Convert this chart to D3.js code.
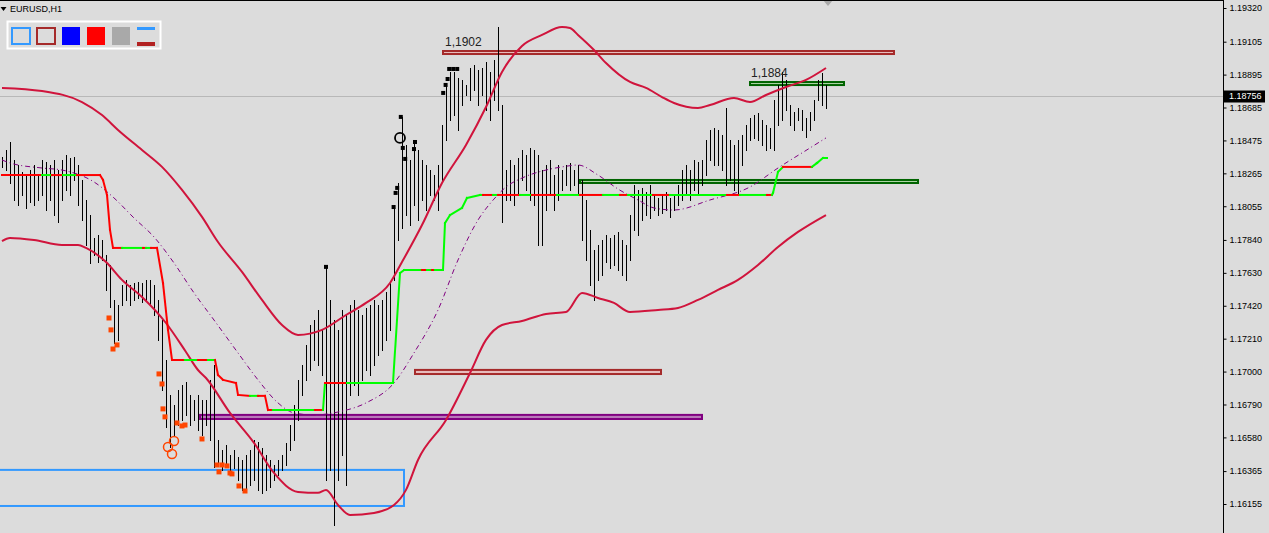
<!DOCTYPE html>
<html><head><meta charset="utf-8">
<script src="https://cdn.jsdelivr.net/npm/d3@7"></script>
<style>html,body{margin:0;padding:0;background:#dcdcdc;overflow:hidden}svg{display:block}</style>
</head><body><svg id="c" width="1269" height="533"></svg>
<script>
const symbolTitle = "EURUSD,H1";
const tickValues = [1.19320,1.19105,1.18895,1.18685,1.18475,1.18265,1.18055,1.17840,1.17630,1.17420,1.17210,1.17000,1.16790,1.16580,1.16365,1.16155];
const currentPrice = 1.18756;

const highs = [
1.18369,1.18414,1.18465,1.18350,1.18318,1.18274,1.18254,1.18286,1.18318,1.18254,
1.18350,1.18337,1.18318,1.18350,1.18286,1.18350,1.18382,1.18363,1.18369,1.18318,
1.18223,1.18095,1.17999,1.17853,1.17872,1.17840,1.17744,1.17680,1.17457,1.17425,
1.17553,1.17585,1.17553,1.17565,1.17572,1.17565,1.17585,1.17585,1.17553,1.17457,
1.17329,1.17074,1.16851,1.16787,1.16883,1.16915,1.16934,1.16851,1.16819,1.16851,
1.16819,1.16819,1.16947,1.17042,1.16564,1.16500,1.16532,1.16468,1.16500,1.16455,
1.16436,1.16468,1.16500,1.16564,1.16551,1.16513,1.16468,1.16436,1.16404,1.16436,
1.16468,1.16545,1.16659,1.16787,1.16947,1.17042,1.17170,1.17297,1.17329,1.17393,
1.17266,1.17680,1.17457,1.17329,1.17266,1.17393,1.17361,1.17425,1.17457,1.17393,
1.17361,1.17406,1.17425,1.17457,1.17425,1.17457,1.17508,1.17565,1.18063,1.18203,
1.18625,1.18446,1.18350,1.18478,1.18414,1.18350,1.18318,1.18286,1.18254,1.18318,
1.18573,1.18829,1.18912,1.18912,1.18873,1.18861,1.18829,1.18937,1.18956,1.18924,
1.18937,1.18975,1.18912,1.18988,1.19199,1.18701,1.18286,1.18350,1.18318,1.18363,
1.18414,1.18382,1.18427,1.18414,1.18382,1.18286,1.18318,1.18350,1.18254,1.18318,
1.18286,1.18318,1.18331,1.18286,1.18318,1.18223,1.18095,1.17904,1.17776,1.17808,
1.17840,1.17872,1.17853,1.17872,1.17891,1.17840,1.17808,1.17999,1.18191,1.18159,
1.18172,1.18146,1.18191,1.18127,1.18108,1.18127,1.18146,1.18108,1.18127,1.18191,
1.18286,1.18318,1.18286,1.18350,1.18337,1.18350,1.18478,1.18542,1.18554,1.18542,
1.18510,1.18682,1.18478,1.18446,1.18478,1.18510,1.18573,1.18618,1.18637,1.18650,
1.18605,1.18573,1.18554,1.18733,1.18829,1.18912,1.18861,1.18701,1.18656,1.18682,
1.18669,1.18618,1.18656,1.18733,1.18861,1.18905,1.18829];

const lows = [
1.18306,1.18286,1.18203,1.18095,1.18063,1.18127,1.18044,1.18082,1.18063,1.18095,
1.18127,1.18031,1.18095,1.17999,1.17955,1.18095,1.18159,1.18127,1.18223,1.18063,
1.17967,1.17808,1.17693,1.17744,1.17699,1.17712,1.17521,1.17412,1.17183,1.17202,
1.17425,1.17457,1.17425,1.17457,1.17470,1.17444,1.17457,1.17425,1.17361,1.17202,
1.16883,1.16647,1.16519,1.16596,1.16659,1.16691,1.16723,1.16659,1.16691,1.16628,
1.16596,1.16659,1.16564,1.16392,1.16404,1.16372,1.16404,1.16372,1.16385,1.16309,
1.16245,1.16258,1.16277,1.16309,1.16245,1.16226,1.16245,1.16264,1.16309,1.16340,
1.16372,1.16404,1.16500,1.16564,1.16691,1.16851,1.16947,1.17010,1.17074,1.17042,
1.16978,1.16309,1.16372,1.16021,1.16309,1.16468,1.16277,1.16851,1.16915,1.16851,
1.16947,1.17010,1.16978,1.17042,1.17106,1.17138,1.17202,1.17266,1.17585,1.17840,
1.17916,1.17999,1.17935,1.18063,1.17967,1.18095,1.18031,1.18127,1.18095,1.18031,
1.18223,1.18478,1.18605,1.18637,1.18542,1.18701,1.18765,1.18733,1.18797,1.18701,
1.18765,1.18669,1.18605,1.18733,1.18669,1.17955,1.18095,1.18095,1.18063,1.18127,
1.18223,1.18159,1.18095,1.18063,1.17808,1.17808,1.18031,1.18127,1.18031,1.18095,
1.18159,1.18191,1.18159,1.18191,1.18127,1.17840,1.17712,1.17553,1.17457,1.17585,
1.17616,1.17699,1.17661,1.17680,1.17648,1.17616,1.17585,1.17712,1.17904,1.17872,
1.17967,1.17999,1.17980,1.18031,1.17999,1.18012,1.18031,1.17987,1.18031,1.18063,
1.18095,1.18127,1.18095,1.18159,1.18127,1.18191,1.18254,1.18350,1.18318,1.18318,
1.18286,1.18191,1.18223,1.18159,1.18140,1.18318,1.18414,1.18478,1.18491,1.18478,
1.18446,1.18414,1.18427,1.18414,1.18573,1.18605,1.18669,1.18573,1.18542,1.18605,
1.18542,1.18497,1.18542,1.18605,1.18733,1.18701,1.18682];

// Bollinger-style envelope, read at sampled bars [barIndex, price]
const upperBand = [[0,1.18810],[10,1.18790],[20,1.18720],[25,1.18637],[29,1.18542],[35,1.18414],[40,1.18306],[45,1.18159],[50,1.17987],[54,1.17827],[60,1.17636],[65,1.17457],[70,1.17297],[74,1.17234],[80,1.17266],[86,1.17361],[91,1.17438],[97,1.17565],[100,1.17699],[105,1.17935],[110,1.18203],[116,1.18446],[121,1.18688],[125,1.18912],[130,1.19078],[135,1.19148],[140,1.19199],[142,1.19192],[144,1.19148],[148,1.19052],[151,1.18969],[157,1.18848],[161,1.18810],[165,1.18752],[168,1.18714],[174,1.18682],[177,1.18701],[183,1.18746],[187,1.18720],[191,1.18765],[196,1.18816],[201,1.18861],[206,1.18937]];
const lowerBand = [[0,1.17833],[2,1.17853],[8,1.17840],[15,1.17808],[19,1.17808],[21,1.17789],[26,1.17699],[30,1.17585],[35,1.17476],[41,1.17310],[46,1.17125],[49,1.17010],[51,1.16959],[57,1.16736],[63,1.16545],[68,1.16353],[74,1.16232],[79,1.16226],[81,1.16245],[84,1.16149],[87,1.16085],[93,1.16098],[98,1.16149],[101,1.16245],[104,1.16436],[111,1.16691],[117,1.16991],[121,1.17202],[125,1.17297],[130,1.17323],[136,1.17368],[141,1.17380],[145,1.17502],[149,1.17470],[153,1.17438],[157,1.17380],[164,1.17393],[169,1.17406],[174,1.17457],[179,1.17521],[184,1.17585],[189,1.17680],[194,1.17795],[199,1.17891],[206,1.17999]];
const middleBand = [[0,1.18350],[2,1.18331],[10,1.18299],[15,1.18286],[23,1.18210],[28,1.18108],[33,1.17980],[38,1.17859],[43,1.17693],[48,1.17502],[53,1.17329],[59,1.17119],[64,1.16947],[69,1.16800],[73,1.16736],[78,1.16723],[84,1.16742],[91,1.16800],[98,1.16927],[103,1.17119],[109,1.17393],[114,1.17712],[119,1.17967],[123,1.18101],[126,1.18178],[130,1.18235],[136,1.18286],[140,1.18306],[144,1.18318],[149,1.18254],[154,1.18165],[159,1.18095],[163,1.18044],[168,1.18031],[177,1.18095],[187,1.18178],[194,1.18299],[202,1.18427],[206,1.18491]];

// trailing stop vertices [barIndex, price, trend] ; trend of the segment ending at this vertex
const stopLine = [
[0,1.18254,'d'],[10,1.18254,'d'],[12.5,1.18254,'u'],[15.25,1.18254,'d'],[18.75,1.18254,'u'],[24.5,1.18254,'d'],
[25.25,1.18223,'d'],[26.25,1.18127,'d'],[27,1.17904,'d'],[27.75,1.17789,'d'],[30,1.17789,'d'],[35.25,1.17789,'u'],[36,1.17789,'d'],[37.25,1.17789,'u'],[38.75,1.17789,'d'],
[40.25,1.17565,'d'],[41.5,1.17266,'d'],[42.5,1.17074,'d'],[45.75,1.17074,'d'],[49,1.17074,'u'],[51.5,1.17074,'d'],[53.25,1.17074,'u'],
[54,1.16978,'d'],[55.25,1.16947,'d'],[58.5,1.16927,'d'],[59,1.16851,'d'],[62,1.16845,'d'],[64,1.16845,'u'],[65.75,1.16845,'d'],[66.5,1.16755,'d'],[67.75,1.16755,'d'],[78.25,1.16755,'u'],[80.25,1.16755,'d'],
[80.75,1.16927,'u'],[86.25,1.16927,'d'],[97.75,1.16927,'u'],[98.75,1.17329,'u'],[99.5,1.17629,'u'],[100.5,1.17648,'u'],[105,1.17648,'u'],[106.25,1.17648,'d'],[107.5,1.17648,'u'],[108.25,1.17648,'d'],[110.25,1.17648,'u'],
[110.75,1.17948,'u'],[112,1.17999,'u'],[115,1.18044,'u'],[116.25,1.18108,'u'],[119.5,1.18127,'u'],
[120.25,1.18127,'u'],[122.75,1.18127,'d'],[124,1.18127,'u'],[129.5,1.18127,'d'],[132.5,1.18127,'u'],[138.75,1.18127,'d'],[144.5,1.18127,'u'],[150.25,1.18127,'d'],[154.5,1.18127,'u'],[156.5,1.18127,'d'],[162.75,1.18127,'u'],[167,1.18127,'d'],[181.25,1.18127,'u'],[184.5,1.18127,'d'],[191.25,1.18127,'u'],[192.5,1.18127,'d'],
[192.75,1.18140,'u'],[194,1.18274,'u'],[195.25,1.18306,'u'],[202.5,1.18306,'d'],[203.75,1.18331,'u'],[205.25,1.18363,'u'],[206.25,1.18363,'u']];

// zones [fromBar, toBar, upper price, lower price, kind]
const zones = [
{from:-3, to:100.5, hi:1.16379, lo:1.16136, kind:'demand'},
{from:49.5, to:175, hi:1.16730, lo:1.16691, kind:'pivot'},
{from:103.25, to:164.75, hi:1.17017, lo:1.16978, kind:'supply'},
{from:110.25, to:223, hi:1.19052, lo:1.19020, kind:'supply'},
{from:144.5, to:229, hi:1.18229, lo:1.18197, kind:'level'},
{from:187, to:210.5, hi:1.18854, lo:1.18822, kind:'level'}];
const zoneLabels = [{bar:110.75, price:1.19052, text:'1,1902'},{bar:187.25, price:1.18854, text:'1,1884'}];

const orangeSquares = [[26.75,1.17342],[27.25,1.17266],[28.75,1.17170],[27.75,1.17144],[39.25,1.16985],[40,1.16921],[40.25,1.16762],[40.75,1.16711],[43.75,1.16672],[45,1.16653],[45.75,1.16659],[50,1.16570],[53.75,1.16404],[54.25,1.16360],[55,1.16404],[56.25,1.16398],[57,1.16353],[57.5,1.16347],[59.25,1.16270],[60.75,1.16238]];
const orangeCircles = [[41.5,1.16519],[43,1.16557],[42.5,1.16474]];
const blackSquares = [[81,1.17668],[97.9,1.18050],[98.4,1.18140],[98.8,1.18172],[99.7,1.18625],[100.2,1.18427],[100.8,1.18357],[103,1.18420],[103.25,1.18465],[110.3,1.18778],[110.9,1.18829],[111.4,1.18867],[111.8,1.18931],[112.8,1.18931],[113.8,1.18931]];
const blackCircles = [[99.5,1.18491]];

const W=1269, H=533, AX=1223;
const FONT = "'Liberation Sans', Arial, sans-serif";
const svg = d3.select('#c');
svg.append('rect').attr('width',W).attr('height',H).attr('fill','#dcdcdc');
svg.append('defs').append('clipPath').attr('id','clip').append('rect').attr('x',0).attr('y',0).attr('width',AX).attr('height',H);

const x = d3.scaleLinear().domain([0,206]).range([2,826]);
const y = d3.scaleLinear().domain([1.16155,1.19320]).range([504,8]);
const px = v => Math.round(x(v)) + 0.5;

const plot = svg.append('g').attr('clip-path','url(#clip)');

// current price line
const yc = Math.round(y(currentPrice)) + 0.5;
plot.append('line').attr('x1',0).attr('x2',AX).attr('y1',yc).attr('y2',yc).attr('stroke','#b8b8b8').attr('stroke-width',1);

// zones (background objects)
const zoneStyle = {demand:{s:'#3399ff',f:'none'}, pivot:{s:'#800080',f:'#b878b8'}, supply:{s:'#a52a2a',f:'#e8bcbc'}, level:{s:'#006400',f:'#b0d4a8'}};
plot.append('g').selectAll('rect').data(zones).join('rect')
  .attr('x',d=>x(d.from)).attr('y',d=>y(d.hi)+1)
  .attr('width',d=>x(d.to)-x(d.from)).attr('height',d=>Math.max(1,y(d.lo)-y(d.hi)-2))
  .attr('fill',d=>zoneStyle[d.kind].f).attr('stroke',d=>zoneStyle[d.kind].s)
  .attr('stroke-width',2);

// bars
plot.append('g').selectAll('line').data(highs.map((h,i)=>({i,h,l:lows[i]}))).join('line')
  .attr('x1',d=>px(d.i)).attr('x2',d=>px(d.i))
  .attr('y1',d=>Math.round(y(d.h))).attr('y2',d=>Math.round(y(d.l))+1)
  .attr('stroke','#000').attr('stroke-width',1).attr('shape-rendering','crispEdges');

// bands
const lineGen = d3.line().x(d=>x(d[0])).y(d=>y(d[1])).curve(d3.curveMonotoneX);
plot.append('path').attr('d',lineGen(upperBand)).attr('fill','none').attr('stroke','#d0143c').attr('stroke-width',2);
plot.append('path').attr('d',lineGen(lowerBand)).attr('fill','none').attr('stroke','#d0143c').attr('stroke-width',2);
plot.append('path').attr('d',lineGen(middleBand)).attr('fill','none').attr('stroke','#800080').attr('stroke-width',1).attr('stroke-dasharray','5,3,1,3');

// trailing stop
const segs = stopLine.slice(1).map((p,k)=>({a:stopLine[k], b:p}));
plot.append('g').selectAll('line').data(segs).join('line')
  .attr('x1',d=>x(d.a[0])).attr('y1',d=>y(d.a[1])).attr('x2',d=>x(d.b[0])).attr('y2',d=>y(d.b[1]))
  .attr('stroke',d=>d.b[2]==='u'?'#00ff00':'#ff0000').attr('stroke-width',2).attr('stroke-linecap','square');

// markers
plot.append('g').selectAll('rect').data(orangeSquares).join('rect')
  .attr('x',d=>x(d[0])-2.5).attr('y',d=>y(d[1])-2.5).attr('width',5).attr('height',5).attr('fill','#ff4500');
plot.append('g').selectAll('circle').data(orangeCircles).join('circle')
  .attr('cx',d=>x(d[0])).attr('cy',d=>y(d[1])).attr('r',4.5).attr('fill','none').attr('stroke','#ff4500').attr('stroke-width',1.5);
plot.append('g').selectAll('rect').data(blackSquares).join('rect')
  .attr('x',d=>x(d[0])-2).attr('y',d=>y(d[1])-2).attr('width',4).attr('height',4).attr('fill','#000');
plot.append('g').selectAll('circle').data(blackCircles).join('circle')
  .attr('cx',d=>x(d[0])).attr('cy',d=>y(d[1])).attr('r',5).attr('fill','none').attr('stroke','#000').attr('stroke-width',1.8);

plot.append('g').selectAll('text').data(zoneLabels).join('text')
  .attr('x',d=>x(d.bar)).attr('y',d=>y(d.price)-4).text(d=>d.text)
  .attr('font-family',FONT).attr('font-size',12).attr('fill','#222');

// chart-shift marker
svg.append('path').attr('d','M823,0L833,0L828,6Z').attr('fill','#a8a8a8');

// frame + axis
svg.append('line').attr('x1',0).attr('x2',AX).attr('y1',0.5).attr('y2',0.5).attr('stroke','#000');
svg.append('line').attr('x1',AX+0.5).attr('x2',AX+0.5).attr('y1',0).attr('y2',H).attr('stroke','#000');
const axis = d3.axisRight(y).tickValues(tickValues).tickFormat(d3.format('.5f')).tickSize(3).tickPadding(3);
const ag = svg.append('g').attr('transform',`translate(${AX+0.5},0)`).call(axis);
ag.select('.domain').remove();
ag.attr('font-family',FONT).attr('font-size',9);
ag.selectAll('text').attr('fill','#000');
ag.selectAll('line').attr('stroke','#000');

// current price tag
svg.append('rect').attr('x',AX+1).attr('y',yc-6).attr('width',41).attr('height',12).attr('fill','#000');
svg.append('text').attr('x',AX+6).attr('y',yc).attr('dy','0.33em').text(d3.format('.5f')(currentPrice))
  .attr('font-family',FONT).attr('font-size',9).attr('fill','#fff');

// title
svg.append('path').attr('d','M0.5,7L6.5,7L3.5,11Z').attr('fill','#000');
svg.append('text').attr('x',10).attr('y',12).text(symbolTitle).attr('font-family',FONT).attr('font-size',9).attr('fill','#000');

// toolbar legend
const lg = svg.append('g');
lg.append('rect').attr('x',7.5).attr('y',21.5).attr('width',153).attr('height',27).attr('fill','none').attr('stroke','#fff').attr('stroke-width',2);
lg.append('rect').attr('x',12).attr('y',28).attr('width',18).attr('height',16).attr('fill','none').attr('stroke','#3399ff').attr('stroke-width',2);
lg.append('rect').attr('x',37).attr('y',28).attr('width',18).attr('height',16).attr('fill','none').attr('stroke','#a52a2a').attr('stroke-width',2);
lg.append('rect').attr('x',62).attr('y',27).attr('width',18).attr('height',18).attr('fill','#0000ff');
lg.append('rect').attr('x',87).attr('y',27).attr('width',18).attr('height',18).attr('fill','#ff0000');
lg.append('rect').attr('x',112).attr('y',27).attr('width',18).attr('height',18).attr('fill','#a9a9a9');
lg.append('rect').attr('x',137).attr('y',27).attr('width',18).attr('height',3).attr('fill','#3399ff');
lg.append('rect').attr('x',137).attr('y',42).attr('width',18).attr('height',4).attr('fill','#b22222');
</script></body></html>
